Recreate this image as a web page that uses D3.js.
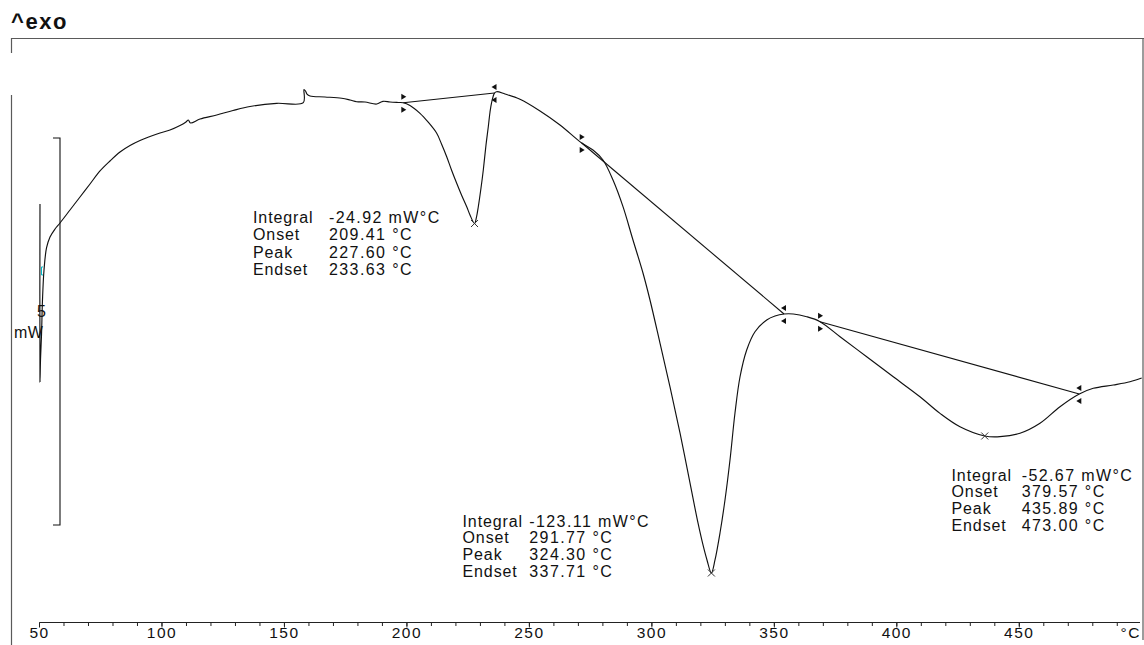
<!DOCTYPE html>
<html>
<head>
<meta charset="utf-8">
<script src="https://cdn.jsdelivr.net/npm/d3@7"></script>
<style>
  html, body { margin: 0; padding: 0; background: #fff; }
  svg { display: block; }
  text { font-family: "Liberation Sans", Arial, sans-serif; fill: #111; }
</style>
</head>
<body>
<svg id="chart" width="1144" height="645"></svg>
<script>
// DSC heating curve: temperature (°C) and heat flow (mW), in recording order
const temperature = [
  50.20, 50.20, 50.41, 50.82, 51.22, 51.84, 52.86, 54.29, 56.33, 58.37,
  62.45, 66.53, 70.62, 74.70, 78.78, 82.86, 86.95, 91.03, 95.11, 99.19,
  103.27, 107.36, 109.81, 110.75, 111.65,
  115.53, 122.34, 129.00, 135.94, 146.84, 157.70, 157.98, 158.59, 159.20, 160.43,
  166.55, 173.37, 176.76, 179.50, 182.89, 187.66, 190.23, 193.09, 196.36, 198.52,
  201.25, 205.34, 208.61, 212.16, 214.12, 216.24, 218.20, 220.32, 222.28, 224.41,
  225.75, 227.60, 228.40, 229.14, 230.24, 231.18, 232.28, 233.22, 233.92, 234.53,
  235.75, 236.64, 240.03, 246.16, 254.33, 262.49, 271.35, 275.96, 280.04, 284.13,
  288.21, 292.29, 296.37, 299.23, 303.31, 307.40, 311.48, 315.56, 318.83, 320.87,
  322.50, 324.30, 325.77, 327.81, 329.85, 331.89, 333.93, 335.97, 338.71, 342.10,
  346.88, 350.27, 353.95, 357.75, 363.21, 368.65, 376.82, 387.70, 398.56, 409.45,
  417.62, 425.78, 435.89, 442.11, 450.28, 458.44, 466.61, 474.49, 480.20, 488.37,
  495.18, 499.96
];
const heatFlow = [
  -0.853, -3.152, -2.868, -2.545, -2.093, -1.705, -1.421, -1.279, -1.176, -1.098,
  -0.930, -0.762, -0.594, -0.426, -0.297, -0.181, -0.097, -0.032, 0.019, 0.065,
  0.103, 0.161, 0.207, 0.233, 0.194,
  0.245, 0.297, 0.355, 0.407, 0.448, 0.456, 0.627, 0.607, 0.568, 0.543,
  0.530, 0.513, 0.491, 0.469, 0.465, 0.439, 0.474, 0.465, 0.459, 0.456,
  0.420, 0.319, 0.207, 0.061, -0.078, -0.242, -0.413, -0.585, -0.736, -0.888,
  -0.995, -1.105, -1.021, -0.888, -0.646, -0.413, -0.090, 0.146, 0.336, 0.452,
  0.581, 0.598, 0.568, 0.500, 0.349, 0.168, -0.065, -0.155, -0.284, -0.543,
  -0.887, -1.318, -1.744, -2.093, -2.649, -3.217, -3.811, -4.457, -4.974, -5.258,
  -5.452, -5.620, -5.452, -5.103, -4.677, -4.160, -3.553, -3.088, -2.739, -2.503,
  -2.351, -2.300, -2.274, -2.274, -2.309, -2.373, -2.567, -2.827, -3.085, -3.343,
  -3.558, -3.731, -3.850, -3.859, -3.815, -3.686, -3.472, -3.308, -3.234, -3.191,
  -3.149, -3.101
];

// Peak evaluations (integration limits and results)
const limitStart = [198.52, 271.35, 368.65];
const limitEnd   = [235.75, 353.95, 474.49];
const integrals  = [-24.92, -123.11, -52.67];
const onsets     = [209.41, 291.77, 379.57];
const peaks      = [227.60, 324.30, 435.89];
const endsets    = [233.63, 337.71, 473.00];
const resultNames = ["Integral", "Onset", "Peak", "Endset"];

// Axis ticks
const majorTicks = [50, 100, 150, 200, 250, 300, 350, 400, 450];
const minorTicks = d3.range(50, 500, 10);
const scaleBarMW = 5;

const svg = d3.select("#chart");
const x = d3.scaleLinear().domain([50, 450]).range([39.5, 1019.3]);
const y = d3.scaleLinear().domain([0, -5]).range([138, 525]);

const pts = temperature.map((t, i) => [t, heatFlow[i]]);

function valueAt(t) {
  for (let i = 0; i < pts.length - 1; i++) {
    const a = pts[i], b = pts[i + 1];
    if (a[0] < b[0] && a[0] <= t && t <= b[0]) {
      return a[1] + (b[1] - a[1]) * (t - a[0]) / (b[0] - a[0]);
    }
  }
  return pts[pts.length - 1][1];
}

// Frame
const frame = svg.append("g").attr("stroke", "#5a5a5a").attr("stroke-width", 1.2).attr("fill", "none");
frame.append("line").attr("x1", 11).attr("x2", 1144).attr("y1", 38.5).attr("y2", 38.5);
frame.append("line").attr("x1", 11.5).attr("x2", 11.5).attr("y1", 38).attr("y2", 53);
frame.append("line").attr("x1", 11.5).attr("x2", 11.5).attr("y1", 95).attr("y2", 645);
frame.append("line").attr("x1", 1143).attr("x2", 1143).attr("y1", 38).attr("y2", 640);

svg.append("text").attr("x", 11).attr("y", 29)
  .style("font-size", "22px").style("font-weight", "bold").style("letter-spacing", "1.6px")
  .text("^exo");

// Temperature axis
const axisY = 622.5;
const axis = svg.append("g").attr("stroke", "#222").attr("stroke-width", 1);
axis.append("line").attr("x1", x(50)).attr("x2", 1140).attr("y1", axisY).attr("y2", axisY);
axis.selectAll("line.minor").data(minorTicks).join("line").attr("class", "minor")
  .attr("x1", d => x(d)).attr("x2", d => x(d)).attr("y1", axisY).attr("y2", axisY + 3.5);
axis.selectAll("line.major").data(majorTicks).join("line").attr("class", "major")
  .attr("x1", d => x(d)).attr("x2", d => x(d)).attr("y1", axisY).attr("y2", axisY + 5);
svg.selectAll("text.tick").data(majorTicks).join("text").attr("class", "tick")
  .attr("x", d => x(d)).attr("y", 637.5).attr("text-anchor", "middle")
  .style("font-size", "15.5px").style("letter-spacing", "1.5px")
  .text(d => d);
svg.append("text").attr("x", 1141).attr("y", 637.5).attr("text-anchor", "end")
  .style("font-size", "15.5px").style("letter-spacing", "1.5px").text("°C");

// Heat-flow scale bar
svg.append("path")
  .attr("d", `M53,${y(0)}H60V${y(-scaleBarMW)}H53`)
  .attr("fill", "none").attr("stroke", "#111").attr("stroke-width", 1.1);
svg.append("text").attr("x", 37).attr("y", 317).style("font-size", "16px").text(scaleBarMW);
svg.append("text").attr("x", 14).attr("y", 338).style("font-size", "16px").style("letter-spacing", "0.5px").text("mW");

// Baselines of the evaluated peaks
svg.selectAll("line.baseline").data(d3.range(3)).join("line").attr("class", "baseline")
  .attr("x1", i => x(limitStart[i])).attr("y1", i => y(valueAt(limitStart[i])))
  .attr("x2", i => x(limitEnd[i])).attr("y2", i => y(valueAt(limitEnd[i])))
  .attr("stroke", "#111").attr("stroke-width", 1.1);

// Measured curve
svg.append("path").datum(pts)
  .attr("d", d3.line().x(d => x(d[0])).y(d => y(d[1])).curve(d3.curveCatmullRom.alpha(0.5)))
  .attr("fill", "none").attr("stroke", "#111").attr("stroke-width", 1.15);

// Small cyan cursor bracket near the start
svg.append("path")
  .attr("d", `M${x(temperature[5]) - 1},${y(heatFlow[5]) - 3}h-1.5v8h1.5`)
  .attr("fill", "none").attr("stroke", "#00b8c8").attr("stroke-width", 1);

// Integration limit flags
function flags(t, dir) {
  const px = x(t), py = y(valueAt(t));
  const g = svg.append("g").attr("fill", "#111");
  [py - 6, py + 7].forEach(yc => {
    const xe = px - 2 * dir;
    g.append("path").attr("d", `M${xe},${yc - 3}L${xe},${yc + 3}L${px + 3 * dir},${yc}Z`);
  });
}
limitStart.forEach(t => flags(t, 1));
limitEnd.forEach(t => flags(t, -1));

// Peak crosses
peaks.forEach(t => {
  const px = x(t), py = y(valueAt(t));
  svg.append("path").attr("d", `M${px - 3.5},${py - 3.5}L${px + 3.5},${py + 3.5}M${px - 3.5},${py + 3.5}L${px + 3.5},${py - 3.5}`)
    .attr("stroke", "#333").attr("stroke-width", 1);
});

// Result blocks
const blockPos = [
  { lx: 253, vx: 329, y0: 222.7, dy: 17.4 },
  { lx: 462.5, vx: 529.3, y0: 526.7, dy: 16.7 },
  { lx: 951.5, vx: 1021.7, y0: 480.8, dy: 16.6 }
];
blockPos.forEach((b, i) => {
  const vals = [
    integrals[i].toFixed(2) + " mW°C",
    onsets[i].toFixed(2) + " °C",
    peaks[i].toFixed(2) + " °C",
    endsets[i].toFixed(2) + " °C"
  ];
  resultNames.forEach((name, j) => {
    svg.append("text").attr("x", b.lx).attr("y", b.y0 + j * b.dy)
      .style("font-size", "16px").style("letter-spacing", "0.9px").text(name);
    svg.append("text").attr("x", b.vx).attr("y", b.y0 + j * b.dy)
      .style("font-size", "16px").style("letter-spacing", "1.4px").text(vals[j]);
  });
});
</script>
</body>
</html>
